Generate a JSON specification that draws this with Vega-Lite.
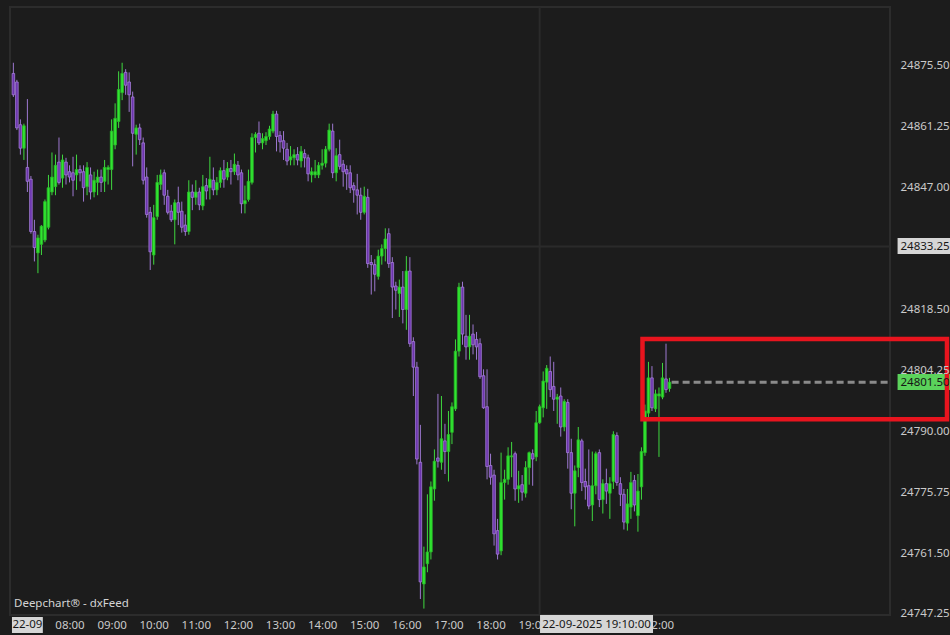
{
  "$schema": "https://vega.github.io/schema/vega-lite/v6.json",
  "width": 880,
  "height": 608,
  "autosize": {"type": "none"},
  "padding": {"left": 10, "top": 7, "right": 60, "bottom": 20},
  "background": "#1c1c1c",
  "config": {
    "view": {"stroke": "#2c2c2c", "strokeWidth": 2, "fill": "#1c1c1c"},
    "font": "Noto Sans"
  },
  "datasets": {
    "candles": [
      {"t":"2025-09-22T06:40","o":24873.75,"h":24876.25,"l":24868.25,"c":24868.75},
      {"t":"2025-09-22T06:45","o":24871.75,"h":24872.25,"l":24860.5,"c":24861},
      {"t":"2025-09-22T06:50","o":24861.75,"h":24863,"l":24854.75,"c":24856.25},
      {"t":"2025-09-22T06:55","o":24856.25,"h":24862,"l":24853.5,"c":24861.5},
      {"t":"2025-09-22T07:00","o":24851.75,"h":24867.75,"l":24846,"c":24848.5},
      {"t":"2025-09-22T07:05","o":24849,"h":24849.75,"l":24836.25,"c":24836.75},
      {"t":"2025-09-22T07:10","o":24836.75,"h":24839.5,"l":24829.75,"c":24833},
      {"t":"2025-09-22T07:15","o":24831.75,"h":24836,"l":24827,"c":24835.25},
      {"t":"2025-09-22T07:20","o":24833.75,"h":24838.25,"l":24831.25,"c":24838},
      {"t":"2025-09-22T07:25","o":24834.75,"h":24844.25,"l":24834.25,"c":24843.75},
      {"t":"2025-09-22T07:30","o":24837.75,"h":24850,"l":24837.25,"c":24847},
      {"t":"2025-09-22T07:35","o":24846,"h":24855.25,"l":24845.25,"c":24849.5},
      {"t":"2025-09-22T07:40","o":24847.25,"h":24854.75,"l":24845.25,"c":24852.25},
      {"t":"2025-09-22T07:45","o":24853,"h":24858.75,"l":24847.75,"c":24848.25},
      {"t":"2025-09-22T07:50","o":24849.25,"h":24854.75,"l":24847,"c":24853.5},
      {"t":"2025-09-22T07:55","o":24853,"h":24854,"l":24847.75,"c":24850},
      {"t":"2025-09-22T08:00","o":24850.75,"h":24852.25,"l":24848.25,"c":24849.5},
      {"t":"2025-09-22T08:05","o":24850.5,"h":24854.25,"l":24845,"c":24848.75},
      {"t":"2025-09-22T08:10","o":24850,"h":24854.75,"l":24846.5,"c":24851.25},
      {"t":"2025-09-22T08:15","o":24851.25,"h":24852.25,"l":24848.5,"c":24850.5},
      {"t":"2025-09-22T08:20","o":24850.75,"h":24852.25,"l":24843.75,"c":24847},
      {"t":"2025-09-22T08:25","o":24847.25,"h":24853,"l":24845.25,"c":24851.75},
      {"t":"2025-09-22T08:30","o":24850,"h":24851.75,"l":24844.25,"c":24846},
      {"t":"2025-09-22T08:35","o":24846,"h":24850.75,"l":24844.75,"c":24848.75},
      {"t":"2025-09-22T08:40","o":24848.25,"h":24851.25,"l":24845.25,"c":24849.5},
      {"t":"2025-09-22T08:45","o":24849.5,"h":24851.25,"l":24846,"c":24848.25},
      {"t":"2025-09-22T08:50","o":24848.5,"h":24853.5,"l":24846,"c":24851.75},
      {"t":"2025-09-22T08:55","o":24851.25,"h":24852.25,"l":24847.75,"c":24851.75},
      {"t":"2025-09-22T09:00","o":24851.25,"h":24863,"l":24846.5,"c":24860.25},
      {"t":"2025-09-22T09:05","o":24857,"h":24866.75,"l":24856,"c":24863.25},
      {"t":"2025-09-22T09:10","o":24862.5,"h":24874.25,"l":24861,"c":24870},
      {"t":"2025-09-22T09:15","o":24869.25,"h":24876.25,"l":24867.5,"c":24873.75},
      {"t":"2025-09-22T09:20","o":24874,"h":24874.75,"l":24868.75,"c":24871},
      {"t":"2025-09-22T09:25","o":24871.75,"h":24874,"l":24864.75,"c":24868.75},
      {"t":"2025-09-22T09:30","o":24868.25,"h":24869.5,"l":24852,"c":24859.75},
      {"t":"2025-09-22T09:35","o":24859.5,"h":24861.75,"l":24854.75,"c":24861},
      {"t":"2025-09-22T09:40","o":24861,"h":24862,"l":24857,"c":24858.25},
      {"t":"2025-09-22T09:45","o":24857.5,"h":24858.75,"l":24847.75,"c":24848.75},
      {"t":"2025-09-22T09:50","o":24849.5,"h":24851.75,"l":24840,"c":24840.75},
      {"t":"2025-09-22T09:55","o":24841.25,"h":24842.5,"l":24827.75,"c":24832},
      {"t":"2025-09-22T10:00","o":24831.25,"h":24843,"l":24829,"c":24840},
      {"t":"2025-09-22T10:05","o":24840.25,"h":24850,"l":24839.5,"c":24848.25},
      {"t":"2025-09-22T10:10","o":24847.75,"h":24851.25,"l":24846.5,"c":24850},
      {"t":"2025-09-22T10:15","o":24850.5,"h":24851.25,"l":24843,"c":24845.25},
      {"t":"2025-09-22T10:20","o":24845,"h":24846.5,"l":24840.75,"c":24841.25},
      {"t":"2025-09-22T10:25","o":24841.5,"h":24843,"l":24839,"c":24839.5},
      {"t":"2025-09-22T10:30","o":24839.5,"h":24844.25,"l":24833.75,"c":24843.5},
      {"t":"2025-09-22T10:35","o":24843.5,"h":24847.25,"l":24838.25,"c":24841.25},
      {"t":"2025-09-22T10:40","o":24841.5,"h":24843.75,"l":24836.5,"c":24837.75},
      {"t":"2025-09-22T10:45","o":24838.25,"h":24840.75,"l":24835.75,"c":24836.75},
      {"t":"2025-09-22T10:50","o":24836.75,"h":24848.75,"l":24836,"c":24846},
      {"t":"2025-09-22T10:55","o":24846,"h":24847.75,"l":24841.75,"c":24844.75},
      {"t":"2025-09-22T11:00","o":24844.75,"h":24848.75,"l":24843,"c":24846},
      {"t":"2025-09-22T11:05","o":24846,"h":24847,"l":24841.75,"c":24843},
      {"t":"2025-09-22T11:10","o":24842.75,"h":24850,"l":24841.75,"c":24847.25},
      {"t":"2025-09-22T11:15","o":24847.5,"h":24849.25,"l":24844.25,"c":24846.25},
      {"t":"2025-09-22T11:20","o":24847,"h":24854.25,"l":24844.25,"c":24849},
      {"t":"2025-09-22T11:25","o":24848.75,"h":24851.75,"l":24845.25,"c":24846.5},
      {"t":"2025-09-22T11:30","o":24846.5,"h":24849.5,"l":24845.25,"c":24848.25},
      {"t":"2025-09-22T11:35","o":24848.25,"h":24851.75,"l":24847,"c":24851},
      {"t":"2025-09-22T11:40","o":24851,"h":24853.5,"l":24847,"c":24849},
      {"t":"2025-09-22T11:45","o":24849.5,"h":24853,"l":24848.75,"c":24851.5},
      {"t":"2025-09-22T11:50","o":24851.5,"h":24853.5,"l":24847.75,"c":24850.75},
      {"t":"2025-09-22T11:55","o":24850.75,"h":24855,"l":24850,"c":24852.5},
      {"t":"2025-09-22T12:00","o":24852.25,"h":24853.25,"l":24848.75,"c":24850},
      {"t":"2025-09-22T12:05","o":24850.5,"h":24851.25,"l":24841,"c":24843.25},
      {"t":"2025-09-22T12:10","o":24843.25,"h":24847.5,"l":24841,"c":24844},
      {"t":"2025-09-22T12:15","o":24844.25,"h":24851.25,"l":24843.75,"c":24848.5},
      {"t":"2025-09-22T12:20","o":24848.25,"h":24859.75,"l":24847.75,"c":24858.75},
      {"t":"2025-09-22T12:25","o":24858.75,"h":24860,"l":24855.25,"c":24859.5},
      {"t":"2025-09-22T12:30","o":24859.75,"h":24862.5,"l":24857,"c":24857.5},
      {"t":"2025-09-22T12:35","o":24857.5,"h":24859.75,"l":24856,"c":24858.5},
      {"t":"2025-09-22T12:40","o":24858,"h":24860,"l":24857,"c":24859},
      {"t":"2025-09-22T12:45","o":24859,"h":24861.5,"l":24858.25,"c":24860.75},
      {"t":"2025-09-22T12:50","o":24860.25,"h":24865,"l":24859.75,"c":24864.25},
      {"t":"2025-09-22T12:55","o":24864.25,"h":24865,"l":24855.5,"c":24859},
      {"t":"2025-09-22T13:00","o":24859.25,"h":24860.25,"l":24855.25,"c":24857.75},
      {"t":"2025-09-22T13:05","o":24858,"h":24860.25,"l":24853.5,"c":24856.25},
      {"t":"2025-09-22T13:10","o":24856,"h":24857.5,"l":24852.25,"c":24853.25},
      {"t":"2025-09-22T13:15","o":24853.5,"h":24856.75,"l":24852.25,"c":24854.25},
      {"t":"2025-09-22T13:20","o":24854,"h":24856,"l":24852.25,"c":24854.75},
      {"t":"2025-09-22T13:25","o":24854.75,"h":24856.5,"l":24852.25,"c":24853.5},
      {"t":"2025-09-22T13:30","o":24853.25,"h":24856.75,"l":24851.75,"c":24855.5},
      {"t":"2025-09-22T13:35","o":24855,"h":24856,"l":24851.75,"c":24854},
      {"t":"2025-09-22T13:40","o":24854,"h":24854.75,"l":24848.5,"c":24850.25},
      {"t":"2025-09-22T13:45","o":24850,"h":24851.75,"l":24848.25,"c":24850.75},
      {"t":"2025-09-22T13:50","o":24850,"h":24853.5,"l":24849.25,"c":24850.75},
      {"t":"2025-09-22T13:55","o":24850,"h":24853,"l":24849.25,"c":24852.25},
      {"t":"2025-09-22T14:00","o":24852.25,"h":24856,"l":24851.25,"c":24852.75},
      {"t":"2025-09-22T14:05","o":24852.75,"h":24856.75,"l":24851.75,"c":24856},
      {"t":"2025-09-22T14:10","o":24856,"h":24862,"l":24855.5,"c":24860.5},
      {"t":"2025-09-22T14:15","o":24860.25,"h":24862,"l":24849.25,"c":24850.5},
      {"t":"2025-09-22T14:20","o":24850.5,"h":24856.25,"l":24848.5,"c":24854.5},
      {"t":"2025-09-22T14:25","o":24854.75,"h":24858.25,"l":24851.25,"c":24852},
      {"t":"2025-09-22T14:30","o":24852.5,"h":24853.5,"l":24847.25,"c":24850.75},
      {"t":"2025-09-22T14:35","o":24851.25,"h":24852.25,"l":24846.5,"c":24850.25},
      {"t":"2025-09-22T14:40","o":24850.5,"h":24852.25,"l":24845.75,"c":24847},
      {"t":"2025-09-22T14:45","o":24847.5,"h":24848.25,"l":24843.5,"c":24846.5},
      {"t":"2025-09-22T14:50","o":24846.5,"h":24850.25,"l":24840.75,"c":24845.25},
      {"t":"2025-09-22T14:55","o":24845.25,"h":24847,"l":24839.5,"c":24841.25},
      {"t":"2025-09-22T15:00","o":24841.25,"h":24847.25,"l":24840.75,"c":24845},
      {"t":"2025-09-22T15:05","o":24844.75,"h":24846.75,"l":24828.25,"c":24829.25},
      {"t":"2025-09-22T15:10","o":24829.5,"h":24831.25,"l":24822,"c":24829},
      {"t":"2025-09-22T15:15","o":24829,"h":24830.25,"l":24822.75,"c":24826.75},
      {"t":"2025-09-22T15:20","o":24826.25,"h":24832.5,"l":24825.5,"c":24831},
      {"t":"2025-09-22T15:25","o":24831,"h":24833.75,"l":24829,"c":24832.75},
      {"t":"2025-09-22T15:30","o":24832.75,"h":24837.5,"l":24829.75,"c":24835},
      {"t":"2025-09-22T15:35","o":24836.25,"h":24837.5,"l":24828.25,"c":24829.25},
      {"t":"2025-09-22T15:40","o":24829.5,"h":24830.75,"l":24816.5,"c":24823.75},
      {"t":"2025-09-22T15:45","o":24824,"h":24825,"l":24818.5,"c":24823},
      {"t":"2025-09-22T15:50","o":24822.25,"h":24825.5,"l":24816.75,"c":24823.75},
      {"t":"2025-09-22T15:55","o":24823.75,"h":24827.5,"l":24815.25,"c":24818.5},
      {"t":"2025-09-22T16:00","o":24818.5,"h":24831,"l":24813.75,"c":24827.5},
      {"t":"2025-09-22T16:05","o":24827.5,"h":24830.75,"l":24809.75,"c":24810.5},
      {"t":"2025-09-22T16:10","o":24811,"h":24812,"l":24798.25,"c":24805},
      {"t":"2025-09-22T16:15","o":24805,"h":24806.25,"l":24782.25,"c":24783.5},
      {"t":"2025-09-22T16:20","o":24782.75,"h":24791.5,"l":24750.75,"c":24754.75},
      {"t":"2025-09-22T16:25","o":24754.25,"h":24763,"l":24748.5,"c":24758.25},
      {"t":"2025-09-22T16:30","o":24759,"h":24775.25,"l":24757,"c":24761.75},
      {"t":"2025-09-22T16:35","o":24761.75,"h":24778.25,"l":24760,"c":24777},
      {"t":"2025-09-22T16:40","o":24776.5,"h":24785.75,"l":24773.75,"c":24783},
      {"t":"2025-09-22T16:45","o":24783.75,"h":24798.75,"l":24781.5,"c":24783},
      {"t":"2025-09-22T16:50","o":24782.75,"h":24798.25,"l":24781,"c":24788.25},
      {"t":"2025-09-22T16:55","o":24787.75,"h":24791.75,"l":24780,"c":24785.25},
      {"t":"2025-09-22T17:00","o":24785.25,"h":24794.75,"l":24778.25,"c":24789.25},
      {"t":"2025-09-22T17:05","o":24789.75,"h":24796.75,"l":24787,"c":24795.75},
      {"t":"2025-09-22T17:10","o":24795.25,"h":24811.5,"l":24794.75,"c":24808.75},
      {"t":"2025-09-22T17:15","o":24808.75,"h":24824.75,"l":24807.5,"c":24823.75},
      {"t":"2025-09-22T17:20","o":24823.75,"h":24825,"l":24810.25,"c":24812.75},
      {"t":"2025-09-22T17:25","o":24812.25,"h":24817.25,"l":24806.75,"c":24809.75},
      {"t":"2025-09-22T17:30","o":24809.75,"h":24817.25,"l":24806.75,"c":24812.25},
      {"t":"2025-09-22T17:35","o":24812.75,"h":24815,"l":24808,"c":24810.25},
      {"t":"2025-09-22T17:40","o":24811.5,"h":24813.25,"l":24806.75,"c":24809.75},
      {"t":"2025-09-22T17:45","o":24810.5,"h":24811.75,"l":24802.25,"c":24802.75},
      {"t":"2025-09-22T17:50","o":24803,"h":24804.5,"l":24795.25,"c":24795.5},
      {"t":"2025-09-22T17:55","o":24795.75,"h":24804.5,"l":24778.75,"c":24781.75},
      {"t":"2025-09-22T18:00","o":24782,"h":24784.75,"l":24777.5,"c":24779.25},
      {"t":"2025-09-22T18:05","o":24779.75,"h":24781,"l":24763.25,"c":24766},
      {"t":"2025-09-22T18:10","o":24766.75,"h":24769.5,"l":24760,"c":24761.25},
      {"t":"2025-09-22T18:15","o":24762,"h":24785,"l":24761,"c":24778},
      {"t":"2025-09-22T18:20","o":24778,"h":24781,"l":24774,"c":24778.75},
      {"t":"2025-09-22T18:25","o":24778.75,"h":24786.25,"l":24777.5,"c":24784.25},
      {"t":"2025-09-22T18:30","o":24784,"h":24787.5,"l":24779.25,"c":24784.25},
      {"t":"2025-09-22T18:35","o":24784.75,"h":24785.25,"l":24773.75,"c":24776.5},
      {"t":"2025-09-22T18:40","o":24776.5,"h":24780.75,"l":24773.25,"c":24777.25},
      {"t":"2025-09-22T18:45","o":24777.5,"h":24779.75,"l":24773.75,"c":24775.75},
      {"t":"2025-09-22T18:50","o":24775.5,"h":24783,"l":24774.5,"c":24781.5},
      {"t":"2025-09-22T18:55","o":24781.5,"h":24785.25,"l":24777.5,"c":24785},
      {"t":"2025-09-22T19:00","o":24784.75,"h":24785.75,"l":24777.25,"c":24783.5},
      {"t":"2025-09-22T19:05","o":24784,"h":24794.75,"l":24783,"c":24792},
      {"t":"2025-09-22T19:10","o":24792,"h":24796.25,"l":24791.75,"c":24795.75},
      {"t":"2025-09-22T19:15","o":24795.5,"h":24804,"l":24793.25,"c":24801.75},
      {"t":"2025-09-22T19:20","o":24801.5,"h":24805.5,"l":24795.25,"c":24804.75},
      {"t":"2025-09-22T19:25","o":24804,"h":24807.5,"l":24798,"c":24799.75},
      {"t":"2025-09-22T19:30","o":24800.5,"h":24806.25,"l":24794.75,"c":24797.5},
      {"t":"2025-09-22T19:35","o":24797.5,"h":24798.75,"l":24791.75,"c":24798},
      {"t":"2025-09-22T19:40","o":24798.25,"h":24800.25,"l":24788.75,"c":24791},
      {"t":"2025-09-22T19:45","o":24791,"h":24797.5,"l":24790,"c":24797},
      {"t":"2025-09-22T19:50","o":24796.75,"h":24797.5,"l":24781.25,"c":24785},
      {"t":"2025-09-22T19:55","o":24785,"h":24788.25,"l":24771.75,"c":24775.5},
      {"t":"2025-09-22T20:00","o":24775.5,"h":24782,"l":24767.75,"c":24780.75},
      {"t":"2025-09-22T20:05","o":24781.5,"h":24791,"l":24779.25,"c":24788},
      {"t":"2025-09-22T20:10","o":24787.75,"h":24788.25,"l":24776,"c":24778},
      {"t":"2025-09-22T20:15","o":24778.25,"h":24781.25,"l":24774,"c":24777},
      {"t":"2025-09-22T20:20","o":24777.25,"h":24785.75,"l":24771.75,"c":24772.5},
      {"t":"2025-09-22T20:25","o":24772.75,"h":24785.25,"l":24769,"c":24777.25},
      {"t":"2025-09-22T20:30","o":24777.25,"h":24785.25,"l":24775.25,"c":24784.75},
      {"t":"2025-09-22T20:35","o":24785,"h":24785.75,"l":24772.25,"c":24774},
      {"t":"2025-09-22T20:40","o":24774,"h":24778.75,"l":24770.75,"c":24777.75},
      {"t":"2025-09-22T20:45","o":24777.75,"h":24781.25,"l":24773,"c":24776},
      {"t":"2025-09-22T20:50","o":24775.5,"h":24779.25,"l":24769.5,"c":24777.75},
      {"t":"2025-09-22T20:55","o":24778.25,"h":24790,"l":24776.5,"c":24789.25},
      {"t":"2025-09-22T21:00","o":24789,"h":24789.75,"l":24777.25,"c":24778},
      {"t":"2025-09-22T21:05","o":24777.75,"h":24779.25,"l":24772.5,"c":24775.25},
      {"t":"2025-09-22T21:10","o":24775.25,"h":24776.5,"l":24767,"c":24768.75},
      {"t":"2025-09-22T21:15","o":24768.5,"h":24776.5,"l":24766.75,"c":24773},
      {"t":"2025-09-22T21:20","o":24772.25,"h":24780.5,"l":24769.5,"c":24778},
      {"t":"2025-09-22T21:25","o":24778.5,"h":24779.75,"l":24771.25,"c":24772.75},
      {"t":"2025-09-22T21:30","o":24770.25,"h":24780,"l":24766.5,"c":24776},
      {"t":"2025-09-22T21:35","o":24777,"h":24786.25,"l":24774,"c":24785.25},
      {"t":"2025-09-22T21:40","o":24785,"h":24796.25,"l":24784.25,"c":24794.75},
      {"t":"2025-09-22T21:45","o":24794.25,"h":24806.25,"l":24793.25,"c":24802.5},
      {"t":"2025-09-22T21:50","o":24802.5,"h":24805.25,"l":24794.75,"c":24795.5},
      {"t":"2025-09-22T21:55","o":24795.25,"h":24799.75,"l":24794.5,"c":24798.75},
      {"t":"2025-09-22T22:00","o":24798.25,"h":24800.25,"l":24784,"c":24798.75},
      {"t":"2025-09-22T22:05","o":24798,"h":24806,"l":24797.5,"c":24802.5},
      {"t":"2025-09-22T22:10","o":24802.25,"h":24810.5,"l":24799,"c":24799.75},
      {"t":"2025-09-22T22:15","o":24800,"h":24802.5,"l":24799.25,"c":24801.5}
    ]
  },
  "layer": [
    {
      "data": {"values": [{"t": "2025-09-22T19:10", "p": 24833.25}]},
      "mark": {"type": "rule", "stroke": "#2a2a2a", "strokeWidth": 2},
      "encoding": {
        "x": {"field": "t", "type": "temporal",
          "scale": {"domain": [{"year": 2025, "month": 9, "date": 22, "hours": 6, "minutes": 35, "seconds": 12}, {"year": 2025, "month": 9, "date": 23, "hours": 3, "minutes": 29, "seconds": 12}], "nice": false, "padding": 0},
          "axis": {
            "title": null, "orient": "bottom", "format": "%H:%M", "ticks": false, "domain": false, "grid": false,
            "labelPadding": 4, "labelColor": "#cacaca", "labelFont": "Noto Sans", "labelFontSize": 11.5,
            "labelFlush": false, "labelOverlap": false,
            "values": [
              {"year": 2025, "month": 9, "date": 22, "hours": 8},
              {"year": 2025, "month": 9, "date": 22, "hours": 9},
              {"year": 2025, "month": 9, "date": 22, "hours": 10},
              {"year": 2025, "month": 9, "date": 22, "hours": 11},
              {"year": 2025, "month": 9, "date": 22, "hours": 12},
              {"year": 2025, "month": 9, "date": 22, "hours": 13},
              {"year": 2025, "month": 9, "date": 22, "hours": 14},
              {"year": 2025, "month": 9, "date": 22, "hours": 15},
              {"year": 2025, "month": 9, "date": 22, "hours": 16},
              {"year": 2025, "month": 9, "date": 22, "hours": 17},
              {"year": 2025, "month": 9, "date": 22, "hours": 18},
              {"year": 2025, "month": 9, "date": 22, "hours": 19},
              {"year": 2025, "month": 9, "date": 22, "hours": 20},
              {"year": 2025, "month": 9, "date": 22, "hours": 21},
              {"year": 2025, "month": 9, "date": 22, "hours": 22}
            ]
          }
        }
      }
    },
    {
      "data": {"values": [{"p": 24833.25}]},
      "mark": {"type": "rule", "stroke": "#2a2a2a", "strokeWidth": 2},
      "encoding": {
        "y": {"field": "p", "type": "quantitative",
          "scale": {"domain": [24747.0, 24889.3], "nice": false, "zero": false, "padding": 0},
          "axis": {
            "title": null, "orient": "right", "format": ".2f", "ticks": false, "domain": false, "grid": false,
            "labelPadding": 10, "labelAlign": "left", "labelFont": "Noto Sans", "labelFontSize": 11.5,
            "labelOverlap": false, "labelFlush": false, "zindex": 1,
            "labelColor": {"condition": {"test": "datum.value == 24833.25 || datum.value == 24801.5", "value": "#161616"}, "value": "#cacaca"},
            "values": [24747.25, 24761.5, 24775.75, 24790, 24801.5, 24804.25, 24818.5, 24833.25, 24847, 24861.25, 24875.5]
          }
        }
      }
    },
    {
      "data": {"name": "candles"},
      "mark": {"type": "rule", "strokeWidth": 1},
      "encoding": {
        "x": {"field": "t", "type": "temporal"},
        "y": {"field": "l", "type": "quantitative"},
        "y2": {"field": "h"},
        "stroke": {"condition": {"test": "datum.c >= datum.o", "value": "#3fd83f"}, "value": "#9d78d0"}
      }
    },
    {
      "data": {"name": "candles"},
      "mark": {"type": "bar", "size": 2.6, "strokeWidth": 0.8},
      "encoding": {
        "x": {"field": "t", "type": "temporal"},
        "y": {"field": "o", "type": "quantitative"},
        "y2": {"field": "c"},
        "fill": {"condition": {"test": "datum.c >= datum.o", "value": "#30e530"}, "value": "#6c34ad"},
        "stroke": {"condition": {"test": "datum.c >= datum.o", "value": "#28b828"}, "value": "#a47ed8"}
      }
    },
    {
      "data": {"values": [{"t1": "2025-09-22T22:18", "t2": "2025-09-23T03:29", "p": 24801.5}]},
      "mark": {"type": "rule", "stroke": "#8a8a8a", "strokeWidth": 3, "strokeDash": [7, 4]},
      "encoding": {
        "x": {"field": "t1", "type": "temporal"},
        "x2": {"field": "t2"},
        "y": {"field": "p", "type": "quantitative"}
      }
    },
    {
      "data": {"values": [
        {"t1": "2025-09-23T03:40", "t2": "2025-09-23T05:00", "p1": 24835.24, "p2": 24831.49, "k": "cross"},
        {"t1": "2025-09-23T03:40", "t2": "2025-09-23T05:00", "p1": 24803.41, "p2": 24799.66, "k": "last"},
        {"t1": "2025-09-22T06:38", "t2": "2025-09-22T07:22", "p1": 24746.53, "p2": 24742.79, "k": "day"},
        {"t1": "2025-09-22T19:10:30", "t2": "2025-09-22T21:51:30", "p1": 24747.0, "p2": 24742.79, "k": "time"}
      ]},
      "mark": {"type": "rect"},
      "encoding": {
        "x": {"field": "t1", "type": "temporal"},
        "x2": {"field": "t2"},
        "y": {"field": "p1", "type": "quantitative"},
        "y2": {"field": "p2"},
        "fill": {"condition": {"test": "datum.k == 'last'", "value": "#5bd25b"}, "value": "#d6d6d6"}
      }
    },
    {
      "data": {"values": [
        {"t": "2025-09-22T07:00", "p": 24744.7, "s": "22-09"},
        {"t": "2025-09-22T20:31", "p": 24744.7, "s": "22-09-2025 19:10:00"}
      ]},
      "mark": {"type": "text", "font": "Noto Sans", "fontSize": 11.5, "color": "#161616", "align": "center", "baseline": "middle"},
      "encoding": {
        "x": {"field": "t", "type": "temporal"},
        "y": {"field": "p", "type": "quantitative"},
        "text": {"field": "s"}
      }
    },
    {
      "data": {"values": [{"t": "2025-09-22T06:40:54", "p": 24749.6, "s": "Deepchart® - dxFeed"}]},
      "mark": {"type": "text", "font": "Noto Sans", "fontSize": 11.5, "color": "#d4d4d4", "align": "left", "baseline": "middle"},
      "encoding": {
        "x": {"field": "t", "type": "temporal"},
        "y": {"field": "p", "type": "quantitative"},
        "text": {"field": "s"}
      }
    },
    {
      "data": {"values": [{"t1": "2025-09-22T21:36:30", "t2": "2025-09-23T04:50:24", "p1": 24811.6, "p2": 24792.8}]},
      "mark": {"type": "rect", "fill": null, "fillOpacity": 0, "stroke": "#e8141e", "strokeWidth": 4.5},
      "encoding": {
        "x": {"field": "t1", "type": "temporal"},
        "x2": {"field": "t2"},
        "y": {"field": "p1", "type": "quantitative"},
        "y2": {"field": "p2"}
      }
    }
  ]
}
